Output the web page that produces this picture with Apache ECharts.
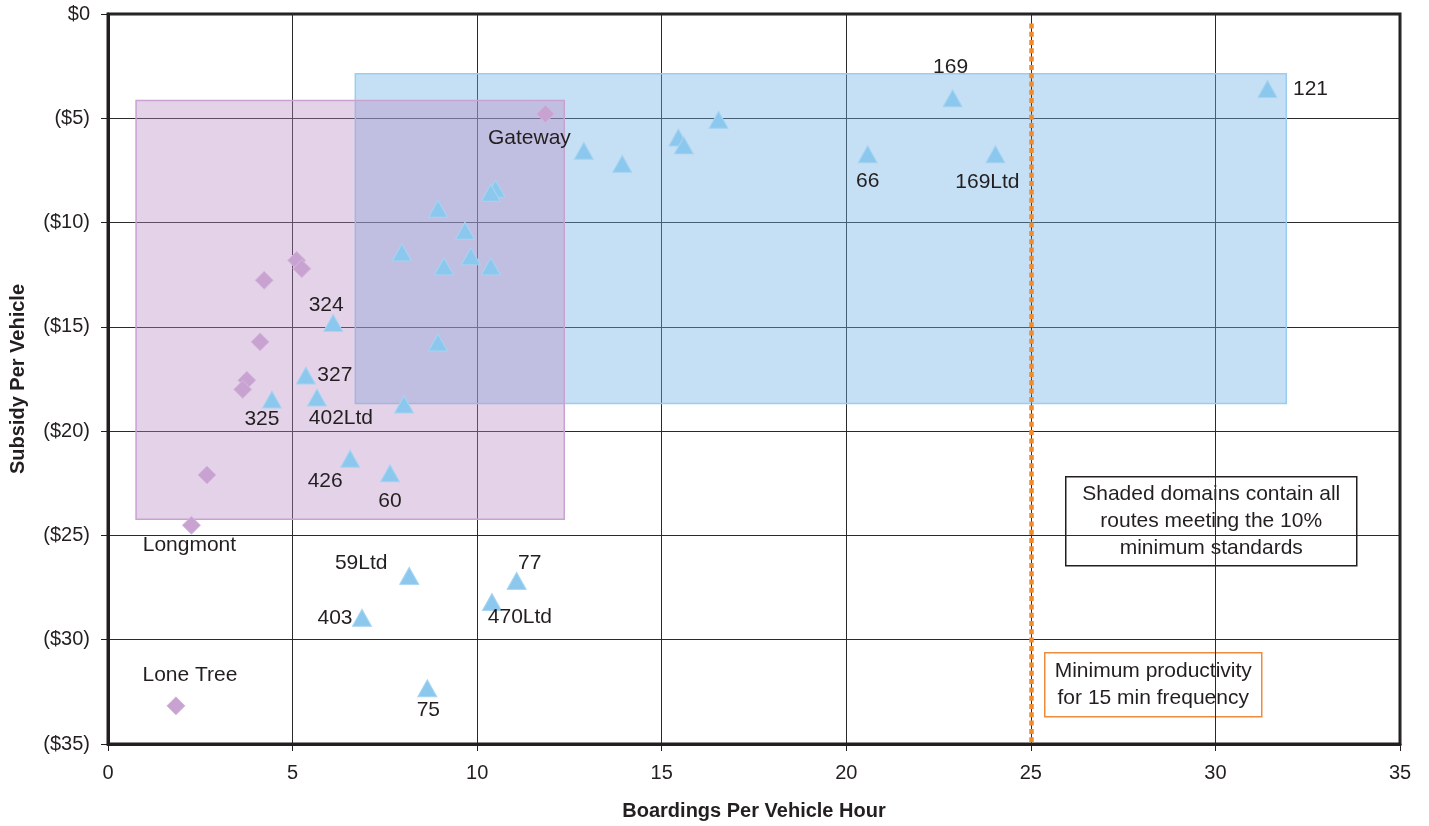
<!DOCTYPE html>
<html>
<head>
<meta charset="utf-8">
<script src="https://cdn.jsdelivr.net/npm/echarts@6/dist/echarts.min.js"></script>
<style>
html,body{margin:0;padding:0;background:#fff;}
#chart{width:1429px;height:826px;}
</style>
</head>
<body>
<div id="chart"></div>
<script>
// ---- Data ----
const xTicks = [0, 5, 10, 15, 20, 25, 30, 35];
const yTicks = [0, -5, -10, -15, -20, -25, -30, -35];

// Routes (triangles)
const triX = [31.41, 22.88, 24.04, 20.58, 16.54, 15.45, 15.60, 13.93, 12.89, 10.50,
              10.37, 8.94, 9.67, 9.83, 9.10, 10.37, 7.96, 6.10, 8.94, 5.36,
              5.66, 4.44, 8.02, 6.56, 7.64, 8.16, 11.07, 10.40, 6.88, 8.65];
const triY = [-3.59, -4.04, -6.72, -6.72, -5.07, -5.92, -6.30, -7.18, -6.56, -8.38,
              -8.57, -9.34, -10.39, -11.62, -12.10, -12.10, -11.43, -14.81, -15.75, -17.33,
              -18.39, -18.48, -18.72, -21.32, -22.02, -26.94, -27.18, -28.19, -28.95, -32.33];
const triNames = ['121', '169', '169Ltd', '66', '', '', '', '', '', '',
                  '', '', '', '', '', '', '', '324', '', '327',
                  '402Ltd', '325', '', '426', '60', '59Ltd', '77', '470Ltd', '403', '75'];

// Routes (diamonds)
const diaX = [11.85, 5.11, 5.25, 4.23, 4.12, 3.76, 3.65, 2.68, 2.26, 1.84];
const diaY = [-4.79, -11.81, -12.21, -12.77, -15.72, -17.56, -18.00, -22.10, -24.51, -33.17];
const diaNames = ['Gateway', '', '', '', '', '', '', '', 'Longmont', 'Lone Tree'];

// Shaded domains [x1, x2], [y1, y2]
const blueDomainX = [6.70, 31.92];
const blueDomainY = [-2.87, -18.67];
const purpleDomainX = [0.76, 12.36];
const purpleDomainY = [-4.15, -24.23];

// Minimum productivity threshold
const minProductivityX = 25;
const minProductivityY = [-0.45, -35];

// ---- Label placement (pixel offsets from the mark centre) ----
const labelOffsets = {
  '121': [43, 0], '169': [-2, -31], '169Ltd': [-8, 28], '66': [0, 27],
  'Gateway': [-16, 24], '324': [-7, -18], '327': [29, 0], '402Ltd': [24, 21],
  '325': [-10, 20], '426': [-25, 23], '60': [0, 28], 'Longmont': [-2, 20],
  'Lone Tree': [14, -31], '59Ltd': [-48, -13], '77': [13, -18], '470Ltd': [28, 15],
  '403': [-27, 0], '75': [1, 22]
};

const FONT = '"Liberation Sans", Arial, Helvetica, sans-serif';
const INK = '#231F20';

const triData = triX.map((x, i) => [x, triY[i]]);
const diaData = diaX.map((x, i) => [x, diaY[i]]);

const labelData = [];
triNames.forEach((n, i) => { if (n) labelData.push({ name: n, value: [triX[i], triY[i]] }); });
diaNames.forEach((n, i) => { if (n) labelData.push({ name: n, value: [diaX[i], diaY[i]] }); });
labelData.forEach(d => {
  d.label = { offset: labelOffsets[d.name] || [0, 0] };
});

const chart = echarts.init(document.getElementById('chart'), null, { renderer: 'canvas' });

const option = {
  animation: false,
  backgroundColor: '#ffffff',
  grid: {
    left: 108, top: 14, right: 29, bottom: 81,
    show: true, borderColor: INK, borderWidth: 3, backgroundColor: 'transparent'
  },
  xAxis: {
    type: 'value',
    min: xTicks[0], max: xTicks[xTicks.length - 1], interval: 5,
    name: 'Boardings Per Vehicle Hour',
    nameLocation: 'middle', nameGap: 57,
    nameTextStyle: { fontFamily: FONT, fontSize: 20, fontWeight: 'bold', color: INK },
    axisLine: { show: true, onZero: false, lineStyle: { color: INK, width: 3 } },
    axisTick: { show: true, inside: false, length: 7, lineStyle: { color: INK, width: 1 } },
    axisLabel: { fontFamily: FONT, fontSize: 20, color: INK, margin: 19 },
    splitLine: { show: true, lineStyle: { color: '#2a2a2a', width: 1 } }
  },
  yAxis: {
    type: 'value',
    min: yTicks[yTicks.length - 1], max: yTicks[0], interval: 5,
    name: 'Subsidy Per Vehicle',
    nameLocation: 'middle', nameGap: 80,
    nameTextStyle: { fontFamily: FONT, fontSize: 20, fontWeight: 'bold', color: INK },
    axisLine: { show: true, onZero: false, lineStyle: { color: INK, width: 3 } },
    axisTick: { show: true, inside: false, length: 7, lineStyle: { color: INK, width: 1 } },
    axisLabel: {
      fontFamily: FONT, fontSize: 20, color: INK, margin: 18,
      formatter: v => v === 0 ? '$0' : '($' + Math.abs(v) + ')'
    },
    splitLine: { show: true, lineStyle: { color: '#2a2a2a', width: 1 } }
  },
  series: [
    {
      name: 'Routes A', type: 'scatter', z: 2,
      symbol: 'triangle', symbolSize: [19, 17],
      itemStyle: { color: '#8CC8EE', borderColor: '#A6D4F2', borderWidth: 1, opacity: 1 },
      data: triData
    },
    {
      name: 'Routes B', type: 'scatter', z: 2,
      symbol: 'diamond', symbolSize: 18,
      itemStyle: { color: '#C8A2D1', borderColor: '#D6B9DD', borderWidth: 1, opacity: 1 },
      data: diaData
    },
    {
      name: 'threshold-dark', type: 'scatter', z: 3, data: [], silent: true,
      markLine: {
        silent: true, symbol: 'none', label: { show: false },
        lineStyle: { color: '#333', width: 1, type: [2, 2], opacity: 1 },
        data: [[{ coord: [minProductivityX, minProductivityY[0]] }, { coord: [minProductivityX, minProductivityY[1]] }]]
      }
    },
    {
      name: 'threshold', type: 'scatter', z: 3, data: [], silent: true,
      markLine: {
        silent: true, symbol: 'none', label: { show: false },
        lineStyle: { color: '#F28A2E', width: 4.5, type: [5, 3.3], cap: 'butt', opacity: 1 },
        data: [[{ coord: [minProductivityX, minProductivityY[0]] }, { coord: [minProductivityX, minProductivityY[1]] }]]
      }
    },
    {
      name: 'blue domain', type: 'scatter', z: 4, data: [], silent: true,
      markArea: {
        silent: true,
        itemStyle: { color: 'rgba(110,175,228,0.4)', borderColor: '#9CCDF0', borderWidth: 1.5, opacity: 1 },
        data: [[{ coord: [blueDomainX[0], blueDomainY[0]] }, { coord: [blueDomainX[1], blueDomainY[1]] }]]
      }
    },
    {
      name: 'purple domain', type: 'scatter', z: 5, data: [], silent: true,
      markArea: {
        silent: true,
        itemStyle: { color: 'rgba(185,140,195,0.38)', borderColor: '#C9A2D2', borderWidth: 1.5, opacity: 1 },
        data: [[{ coord: [purpleDomainX[0], purpleDomainY[0]] }, { coord: [purpleDomainX[1], purpleDomainY[1]] }]]
      }
    },
    {
      name: 'labels', type: 'scatter', z: 10, silent: true,
      symbol: 'circle', symbolSize: 1,
      itemStyle: { color: 'rgba(0,0,0,0)', opacity: 1 },
      label: {
        show: true, position: 'inside', formatter: '{b}', opacity: 1,
        fontFamily: FONT, fontSize: 21, color: INK, textBorderWidth: 0
      },
      data: labelData
    }
  ],
  graphic: [
    {
      type: 'group', left: 1065, top: 476, z: 100,
      children: [
        { type: 'rect', shape: { x: 0, y: 0, width: 291, height: 89 },
          style: { fill: '#ffffff', stroke: INK, lineWidth: 1.5 } },
        { type: 'text', x: 145.5, y: 44.5,
          style: { text: 'Shaded domains contain all\nroutes meeting the 10%\nminimum standards',
                   fill: INK, font: '21px ' + FONT, align: 'center', verticalAlign: 'middle', lineHeight: 27 } }
      ]
    },
    {
      type: 'group', left: 1044, top: 652, z: 100,
      children: [
        { type: 'rect', shape: { x: 0, y: 0, width: 217, height: 64 },
          style: { fill: '#ffffff', stroke: '#F08A3C', lineWidth: 1.5 } },
        { type: 'text', x: 108.5, y: 32,
          style: { text: 'Minimum productivity\nfor 15 min frequency',
                   fill: INK, font: '21px ' + FONT, align: 'center', verticalAlign: 'middle', lineHeight: 27 } }
      ]
    }
  ]
};

chart.setOption(option);
</script>
</body>
</html>
